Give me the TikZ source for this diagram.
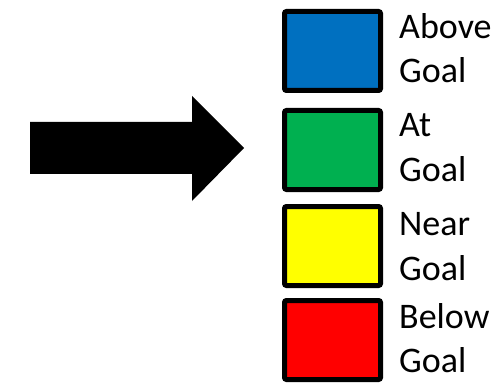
\documentclass[tikz,border=0pt]{standalone}
\usepackage{fontspec}
\setmainfont{Carlito}
\definecolor{cblue}{HTML}{0070C0}
\definecolor{cgreen}{HTML}{00B050}
\definecolor{cyellow}{HTML}{FFFF00}
\definecolor{cred}{HTML}{FF0000}
\begin{document}
\begin{tikzpicture}[x=1pt,y=-1pt,
  box/.style={draw=black,line width=5pt,rounded corners=2pt,minimum width=96pt,minimum height=79pt,inner sep=0pt,outer sep=0pt},
  lbl/.style={anchor=base west,inner sep=0pt,font=\fontsize{36}{42}\selectfont}]
\useasboundingbox (0,0) rectangle (500,390);
\fill[black] (30,122) -- (192,122) -- (192,96) -- (244,148) -- (192,201) -- (192,174) -- (30,174) -- cycle;
\node[box,fill=cblue] (b1) at (332.5,51) {};
\node[box,fill=cgreen] (b2) at (332.5,150) {};
\node[box,fill=cyellow] (b3) at (332.5,246) {};
\node[box,fill=cred] (b4) at (332.5,340) {};
\node[lbl] (t1a) at (399,39) {Above};
\node[lbl] (t1b) at (399,83) {Goal};
\node[lbl] (t2a) at (399,137) {At};
\node[lbl] (t2b) at (399,182) {Goal};
\node[lbl] (t3a) at (399,235) {Near};
\node[lbl] (t3b) at (399,280) {Goal};
\node[lbl] (t4a) at (399,328) {Below};
\node[lbl] (t4b) at (399,372) {Goal};
\end{tikzpicture}
\end{document}
